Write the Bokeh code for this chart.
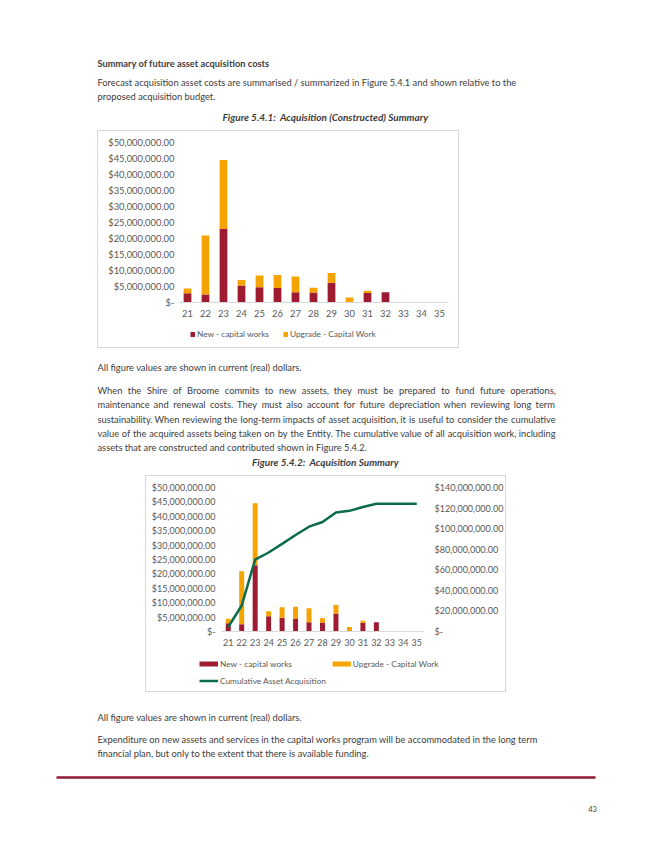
from bokeh.plotting import figure
from bokeh.models import (Range1d, FactorRange, LinearAxis, FixedTicker, Legend,
                          LegendItem, Spacer, ColumnDataSource)
from bokeh.layouts import column, row
from bokeh.embed import file_html
from bokeh.resources import INLINE
from bokeh.core.properties import value

# ---------------- data ----------------
years = ["21", "22", "23", "24", "25", "26", "27", "28", "29", "30", "31", "32", "33", "34", "35"]
new_capital = [2900000, 2500000, 23000000, 5300000, 4800000, 4500000, 3200000, 3100000,
               6200000, 0, 3000000, 3200000, 0, 0, 0]
upgrade_capital = [1500000, 18400000, 21500000, 1700000, 3600000, 4100000, 4900000, 1500000,
                   3000000, 1600000, 700000, 0, 0, 0, 0]
cumulative = [4400000, 25300000, 69800000, 76800000, 85200000, 93800000, 101900000, 106500000,
              115700000, 117300000, 121000000, 124200000, 124200000, 124200000, 124200000]

left_ticks = [0, 5000000, 10000000, 15000000, 20000000, 25000000, 30000000, 35000000,
              40000000, 45000000, 50000000]
left_tick_labels = ["$-", "$5,000,000.00", "$10,000,000.00", "$15,000,000.00", "$20,000,000.00",
                    "$25,000,000.00", "$30,000,000.00", "$35,000,000.00", "$40,000,000.00",
                    "$45,000,000.00", "$50,000,000.00"]
right_ticks = [0, 20000000, 40000000, 60000000, 80000000, 100000000, 120000000, 140000000]
right_tick_labels = ["$-", "$20,000,000.00", "$40,000,000.00", "$60,000,000.00", "$80,000,000.00",
                     "$100,000,000.00", "$120,000,000.00", "$140,000,000.00"]

series_names = ["New - capital works", "Upgrade - Capital Work", "Cumulative Asset Acquisition"]

heading = "Summary of future asset acquisition costs"
para1 = ["Forecast acquisition asset costs are summarised / summarized in Figure 5.4.1 and shown relative to the",
         "proposed acquisition budget."]
caption1 = "Figure 5.4.1:\u00a0 Acquisition (Constructed) Summary"
note = "All figure values are shown in current (real) dollars."
para2 = ["When the Shire of Broome commits to new assets, they must be prepared to fund future operations,",
         "maintenance and renewal costs. They must also account for future depreciation when reviewing long term",
         "sustainability. When reviewing the long-term impacts of asset acquisition, it is useful to consider the cumulative",
         "value of the acquired assets being taken on by the Entity. The cumulative value of all acquisition work, including",
         "assets that are constructed and contributed shown in Figure 5.4.2."]
caption2 = "Figure 5.4.2:\u00a0 Acquisition Summary"
para3 = ["Expenditure on new assets and services in the capital works program will be accommodated in the long term",
         "financial plan, but only to the extent that there is available funding."]
page_number = "43"

# ---------------- style ----------------
RED = "#9E1B32"
ORANGE = "#F4A300"
GREEN = "#0B6B4A"
TXT = "#3c3c3c"
AX = "#595959"
BODY_FONT = value("Lato")
BODY_PX = 9.3
BODY_SIZE = f"{BODY_PX}px"
CAP_SIZE = "10px"
AX1_SIZE = "9.4px"
AX2_SIZE = "9px"
LEG_SIZE = "8.3px"
W = 652
EDGE = "#d9d9d9"
BOX_TOP = {"box-shadow": f"inset 1px 0 0 0 {EDGE}, inset -1px 0 0 0 {EDGE}, inset 0 1px 0 0 {EDGE}",
           "background-color": "white"}
BOX_BOT = {"box-shadow": f"inset 1px 0 0 0 {EDGE}, inset -1px 0 0 0 {EDGE}, inset 0 -1px 0 0 {EDGE}",
           "background-color": "white"}

# approximate advance widths (em) of Lato Regular, used only to justify text lines
_EM = {" ": .193, ".": .21, ",": .21, "-": .33, "(": .3, ")": .3, "/": .37, ":": .21}
_EM.update({c: w for c, w in zip("abcdefghijklmnopqrstuvwxyz",
                                  [.49, .55, .46, .55, .51, .31, .49, .55, .23, .23, .49, .23, .82,
                                   .55, .55, .55, .55, .36, .41, .34, .55, .49, .75, .48, .49, .44])})
_EM.update({c: w for c, w in zip("ABCDEFGHIJKLMNOPQRSTUVWXYZ",
                                  [.67, .62, .67, .74, .55, .53, .72, .75, .27, .38, .65, .49, .9,
                                   .75, .79, .58, .79, .6, .5, .57, .71, .67, 1.0, .65, .62, .6])})


def est_width(word, px):
    return sum(_EM.get(ch, .55) for ch in word) * px


def text_fig(h):
    f = figure(width=W, height=h, x_range=Range1d(0, W), y_range=Range1d(h, 0),
               output_backend="svg", toolbar_location=None, min_border=0,
               x_axis_location=None, y_axis_location=None)
    f.grid.visible = False
    f.outline_line_color = None
    f.background_fill_color = "white"
    f.border_fill_color = "white"
    return f


def put(f, x, y, txt, style="normal", align="left", size=BODY_SIZE, color=TXT):
    f.text(x=[x], y=[y], text=[txt], text_font=BODY_FONT, text_font_size=size,
           text_font_style=style, text_align=align, text_baseline="middle", text_color=color)


def put_justified(f, x0, x1, y, line):
    words = line.split(" ")
    widths = [est_width(wd, BODY_PX) for wd in words]
    gap = max((x1 - x0 - sum(widths)) / (len(words) - 1), _EM[" "] * BODY_PX)
    xs, x = [], x0
    for wd in widths:
        xs.append(x)
        x += wd + gap
    f.text(x=xs, y=[y] * len(xs), text=words, text_font=BODY_FONT, text_font_size=BODY_SIZE,
           text_align="left", text_baseline="middle", text_color=TXT)


def legend_fig(w, h):
    f = figure(width=w, height=h, x_range=Range1d(0, w), y_range=Range1d(0, h),
               output_backend="svg", toolbar_location=None, min_border=0,
               x_axis_location=None, y_axis_location=None)
    f.grid.visible = False
    f.outline_line_color = None
    f.background_fill_color = None
    f.border_fill_color = None
    f.styles = BOX_BOT
    return f


def swatch(f, color, lw):
    # legend-only renderer, its points lie outside the visible range
    return f.line(x=[-20, -10], y=[-20, -20], line_color=color, line_width=lw)


def style_chart(c, size):
    c.grid.visible = False
    c.outline_line_color = None
    c.background_fill_color = "white"
    c.border_fill_color = None
    c.styles = BOX_TOP
    for ax in c.axis:
        ax.major_tick_line_color = None
        ax.minor_tick_line_color = None
        ax.major_tick_out = 0
        ax.major_tick_in = 0
        ax.minor_tick_out = 0
        ax.minor_tick_in = 0
        ax.major_label_text_font = "Lato"
        ax.major_label_text_font_size = size
        ax.major_label_text_color = AX
    c.xaxis.axis_line_color = EDGE
    c.yaxis.axis_line_color = None


def make_legend(items, loc, gw, gh, standoff, spacing, ncols="auto"):
    return Legend(items=items, location=loc, orientation="horizontal", ncols=ncols,
                  glyph_width=gw, glyph_height=gh, label_height=gh, label_standoff=standoff,
                  spacing=spacing, padding=0, margin=0, border_line_color=None,
                  background_fill_alpha=0, label_text_font="Lato",
                  label_text_font_size=LEG_SIZE, label_text_color=AX)


# ---------------- top text ----------------
top = text_fig(130)
put(top, 97, 63, heading, style="bold")
put(top, 97, 82, para1[0])
put(top, 97, 96, para1[1])
put(top, 325, 116, caption1, style="bold italic", align="center", size=CAP_SIZE)

src = ColumnDataSource(dict(year=years, new=new_capital, upgrade=upgrade_capital, cum=cumulative))

# ---------------- chart 1 ----------------
c1 = figure(width=362, height=195, x_range=FactorRange(*years), y_range=Range1d(0, 50000000),
            output_backend="svg", toolbar_location=None,
            min_border_left=81, min_border_right=11, min_border_top=12, min_border_bottom=23)
c1.vbar_stack(["new", "upgrade"], x="year", width=0.43, source=src,
              fill_color=[RED, ORANGE], line_color=None)
style_chart(c1, AX1_SIZE)
c1.yaxis.ticker = FixedTicker(ticks=left_ticks)
c1.yaxis.major_label_overrides = dict(zip(left_ticks, left_tick_labels))
c1.yaxis.major_label_standoff = 4
c1.xaxis.major_label_standoff = 7

lf1 = legend_fig(362, 23)
leg1 = make_legend([LegendItem(label=series_names[0], renderers=[swatch(lf1, RED, 5)]),
                    LegendItem(label=series_names[1], renderers=[swatch(lf1, ORANGE, 5)])],
                   (93, 9), 5, 10, 2, 14)
lf1.add_layout(leg1)

# ---------------- middle text ----------------
mid = text_fig(127)
put(mid, 97, 19, note)
for yy, ln in zip([42, 56, 71, 85], para2[:4]):
    put_justified(mid, 97, 554, yy, ln)
put(mid, 97, 99, para2[4])
put(mid, 325, 113, caption2, style="bold italic", align="center", size=CAP_SIZE)

# ---------------- chart 2 ----------------
c2 = figure(width=361, height=177, x_range=FactorRange(*years), y_range=Range1d(0, 50000000),
            output_backend="svg", toolbar_location=None,
            min_border_left=76, min_border_right=81, min_border_top=12, min_border_bottom=21)
c2.extra_y_ranges = {"cum": Range1d(0, 140000000)}
c2.vbar_stack(["new", "upgrade"], x="year", width=0.37, source=src,
              fill_color=[RED, ORANGE], line_color=None)
c2.line(x="year", y="cum", source=src, y_range_name="cum", line_color=GREEN, line_width=2.5)
ax_r = LinearAxis(y_range_name="cum")
c2.add_layout(ax_r, "right")
style_chart(c2, AX2_SIZE)
c2.yaxis[0].ticker = FixedTicker(ticks=left_ticks)
c2.yaxis[0].major_label_overrides = dict(zip(left_ticks, left_tick_labels))
c2.yaxis[0].major_label_standoff = 6
ax_r.ticker = FixedTicker(ticks=right_ticks)
ax_r.major_label_overrides = dict(zip(right_ticks, right_tick_labels))
ax_r.major_label_standoff = 11
c2.xaxis.major_label_standoff = 7

lf2 = legend_fig(361, 40)
leg2 = make_legend([LegendItem(label=series_names[0], renderers=[swatch(lf2, RED, 5)]),
                    LegendItem(label=series_names[1], renderers=[swatch(lf2, ORANGE, 5)]),
                    LegendItem(label=series_names[2], renderers=[swatch(lf2, GREEN, 2.5)])],
                   (54, 6), 19, 11, 2, 6, ncols=2)
lf2.add_layout(leg2)

# ---------------- bottom text ----------------
bot = text_fig(152)
put(bot, 97, 25, note)
put(bot, 97, 47, para3[0])
put(bot, 97, 61, para3[1])
bot.line(x=[56, 595], y=[85, 85], line_color="#8E1D35", line_width=2.5)
put(bot, 592, 116, page_number, align="center", size="7.5px")

page = column(
    top,
    row(Spacer(width=97, height=195), c1, Spacer(width=W - 97 - 362, height=195)),
    row(Spacer(width=97, height=23), lf1, Spacer(width=W - 97 - 362, height=23)),
    mid,
    row(Spacer(width=145, height=177), c2, Spacer(width=W - 145 - 361, height=177)),
    row(Spacer(width=145, height=40), lf2, Spacer(width=W - 145 - 361, height=40)),
    bot,
)

open("out.html", "w").write(file_html(page, INLINE))
